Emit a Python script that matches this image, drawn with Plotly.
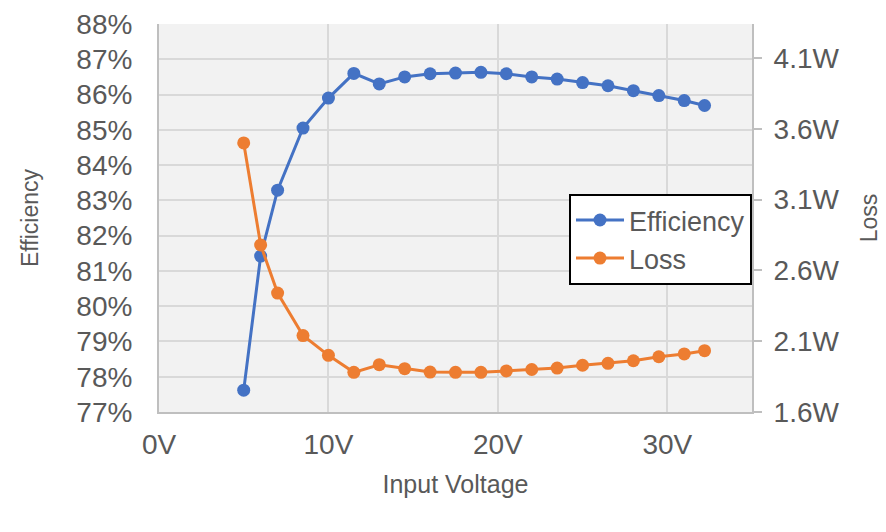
import plotly.graph_objects as go

voltage = [5, 6, 7, 8.5, 10, 11.5, 13, 14.5, 16, 17.5, 19, 20.5, 22, 23.5, 25, 26.5, 28, 29.5, 31, 32.2]
efficiency = [77.62, 81.42, 83.29, 85.05, 85.9, 86.6, 86.3, 86.5, 86.59, 86.61, 86.63, 86.59, 86.5,
              86.44, 86.34, 86.25, 86.11, 85.97, 85.83, 85.69]
loss = [3.50, 2.78, 2.44, 2.14, 2.00, 1.88, 1.934, 1.906, 1.882, 1.88, 1.88, 1.89, 1.90, 1.91,
        1.93, 1.944, 1.962, 1.99, 2.01, 2.033]
x_ticks = [0, 10, 20, 30]
x_tick_labels = ["0V", "10V", "20V", "30V"]

BLUE = "#4472C4"
ORANGE = "#ED7D31"
GRAY = "#595959"
FONT = "Liberation Sans, Arial, sans-serif"

fig = go.Figure()
fig.add_trace(go.Scatter(x=voltage, y=efficiency, name="Efficiency", mode="lines+markers",
                         line=dict(color=BLUE, width=3), marker=dict(size=13, color=BLUE)))
fig.add_trace(go.Scatter(x=voltage, y=loss, name="Loss", mode="lines+markers", yaxis="y2",
                         line=dict(color=ORANGE, width=3), marker=dict(size=13, color=ORANGE)))

fig.update_layout(
    width=886, height=532,
    margin=dict(l=151, r=142, t=16, b=128),
    paper_bgcolor="white", plot_bgcolor="#F2F2F2",
    font=dict(family=FONT, color=GRAY, size=28),
    showlegend=True,
    legend=dict(x=1, xanchor="right", y=0.562, yanchor="top",
                bgcolor="white", bordercolor="black", borderwidth=2,
                font=dict(size=27, color=GRAY), itemwidth=48, tracegroupgap=0),
    xaxis=dict(range=[0, 35], tickvals=x_ticks, ticktext=x_tick_labels, automargin=False,
               showgrid=True, gridcolor="#D9D9D9", gridwidth=2,
               showline=True, linecolor="#BFBFBF", linewidth=2, zeroline=False,
               ticks="", ticklabelstandoff=6,
               title=dict(text="Input Voltage", font=dict(size=25, color=GRAY), standoff=17)),
    yaxis=dict(range=[77, 88], dtick=1, tick0=77, ticksuffix="%", automargin=False,
               showgrid=True, gridcolor="#D9D9D9", gridwidth=2,
               showline=True, linecolor="#BFBFBF", linewidth=2, zeroline=False,
               ticks="", ticklabelstandoff=19,
               title=dict(text="Efficiency", font=dict(size=23, color=GRAY), standoff=31)),
    yaxis2=dict(range=[1.6, 4.34], dtick=0.5, tick0=1.6, tickformat=".1f", ticksuffix="W",
                overlaying="y", side="right", showgrid=False, zeroline=False, automargin=False,
                showline=True, linecolor="#BFBFBF", linewidth=2,
                ticks="outside", ticklen=8, tickcolor="#BFBFBF", tickwidth=2,
                ticklabelstandoff=6,
                title=dict(text="Loss", font=dict(size=23, color=GRAY), standoff=22)),
)

fig.write_html("out.html")
